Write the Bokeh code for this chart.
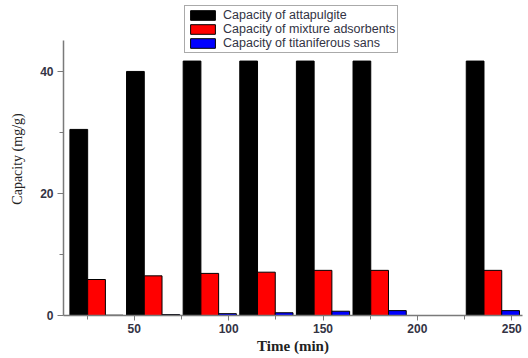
from bokeh.plotting import figure
from bokeh.models import Range1d, FixedTicker, ColumnDataSource, Legend, LegendItem
from bokeh.transform import dodge
from bokeh.embed import file_html
from bokeh.resources import INLINE

times = [30, 60, 90, 120, 150, 180, 240]
attapulgite = [30.5, 40.0, 41.7, 41.7, 41.7, 41.7, 41.7]
mixture = [5.9, 6.5, 6.9, 7.1, 7.4, 7.4, 7.4]
titaniferous = [0.05, 0.15, 0.3, 0.45, 0.7, 0.8, 0.8]
x_ticks = [50, 100, 150, 200, 250]
x_minor = [25, 75, 125, 175, 225]
y_ticks = [0, 20, 40]
y_minor = [10, 30]
labels = ["Capacity of attapulgite", "Capacity of mixture adsorbents", "Capacity of titaniferous sans"]
colors = ["#000000", "#ff0000", "#0000ff"]

src = ColumnDataSource(dict(time=times, a=attapulgite, m=mixture, t=titaniferous))

p = figure(width=528, height=358, output_backend="svg", toolbar_location=None,
           x_range=Range1d(12.5, 255.7), y_range=Range1d(0, 51.3),
           min_border_left=63, min_border_right=6, min_border_top=2, min_border_bottom=43)
p.outline_line_color = None
p.xgrid.visible = False
p.ygrid.visible = False
p.background_fill_color = "white"

bw = 9.4
r1 = p.vbar(x=dodge("time", -bw, range=p.x_range), top="a", width=bw, source=src,
            fill_color=colors[0], line_color="black", line_width=1)
r2 = p.vbar(x=dodge("time", 0, range=p.x_range), top="m", width=bw, source=src,
            fill_color=colors[1], line_color="black", line_width=1)
r3 = p.vbar(x=dodge("time", bw, range=p.x_range), top="t", width=bw, source=src,
            fill_color=colors[2], line_color="black", line_width=1)

p.xaxis.ticker = FixedTicker(ticks=x_ticks, minor_ticks=x_minor)
p.yaxis.ticker = FixedTicker(ticks=y_ticks, minor_ticks=y_minor)
p.yaxis.bounds = (0, 45)

for ax in (p.xaxis[0], p.yaxis[0]):
    ax.axis_line_color = "#7a7a7a"
    ax.axis_line_width = 1.5
    ax.major_tick_line_color = "#7a7a7a"
    ax.minor_tick_line_color = "#7a7a7a"
    ax.major_tick_in = 0
    ax.minor_tick_in = 0
    ax.major_label_text_font = "Liberation Sans"
    ax.major_label_text_font_style = "bold"
    ax.major_label_text_font_size = "12px"
    ax.major_label_text_color = "#333344"
    ax.axis_label_text_font = "Liberation Serif"
    ax.axis_label_text_color = "#222222"

p.xaxis.major_tick_out = 5
p.xaxis.minor_tick_out = 4
p.yaxis.major_tick_out = 6
p.yaxis.minor_tick_out = 4
p.xaxis.major_label_standoff = 3
p.yaxis.major_label_standoff = 4
p.xaxis.axis_label = "Time (min)"
p.xaxis.axis_label_text_font_style = "bold"
p.xaxis.axis_label_text_font_size = "15px"
p.xaxis.axis_label_standoff = 2
p.yaxis.axis_label = "Capacity (mg/g)"
p.yaxis.axis_label_text_font_style = "normal"
p.yaxis.axis_label_text_font_size = "14px"
p.yaxis.axis_label_standoff = 12

legend = Legend(items=[LegendItem(label=labels[0], renderers=[r1]),
                       LegendItem(label=labels[1], renderers=[r2]),
                       LegendItem(label=labels[2], renderers=[r3])],
                location=(121, 262))
legend.label_text_font = "Liberation Sans"
legend.label_text_font_size = "12.5px"
legend.label_text_color = "#333344"
legend.label_height = 13
legend.glyph_height = 12
legend.glyph_width = 31
legend.spacing = 0
legend.padding = 2
legend.margin = 0
legend.label_standoff = 5
legend.border_line_color = "#555555"
legend.border_line_width = 1.5
legend.background_fill_color = "white"
legend.background_fill_alpha = 1
p.add_layout(legend, "center")

open("out.html", "w").write(file_html(p, INLINE))
